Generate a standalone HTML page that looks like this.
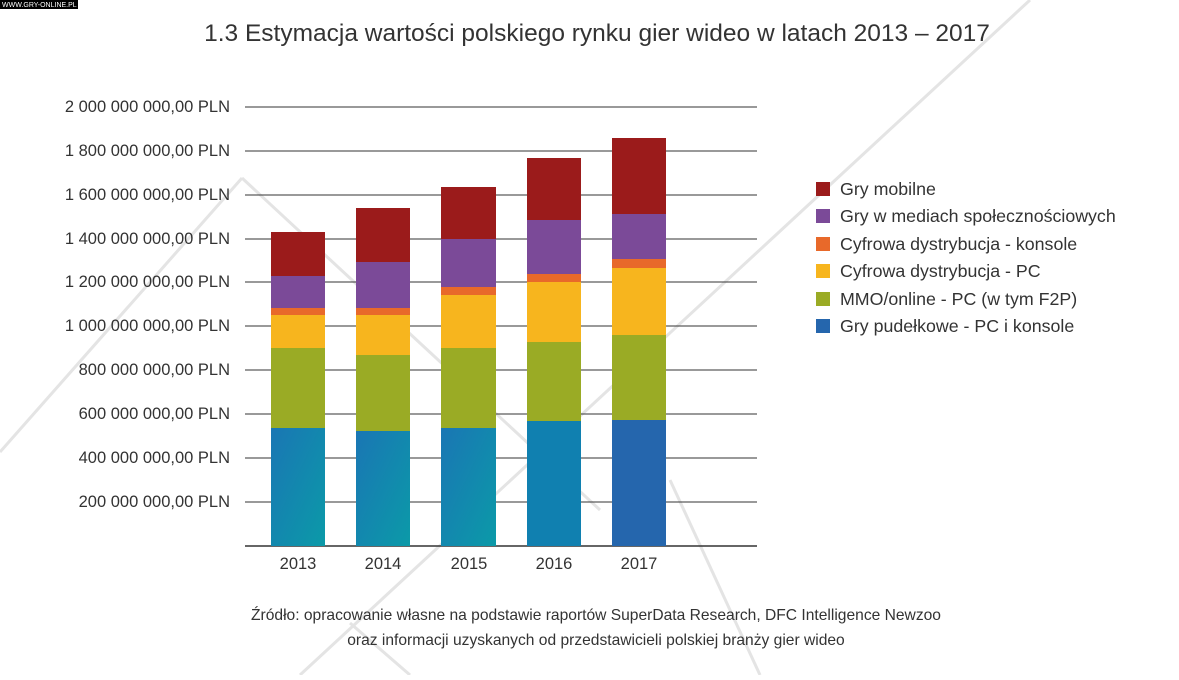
<!DOCTYPE html>
<html><head><meta charset="utf-8"><style>
body{margin:0;background:#fff;width:1179px;height:675px;overflow:hidden;font-family:"Liberation Sans",sans-serif}
</style></head><body>
<svg width="1179" height="675" xmlns="http://www.w3.org/2000/svg" font-family="Liberation Sans, sans-serif">
<defs>
<linearGradient id="bl" x1="0" y1="0" x2="1" y2="1">
<stop offset="0" stop-color="#1a76b4"/><stop offset="1" stop-color="#0b9aa8"/></linearGradient>
</defs>
<g stroke="#e4e4e4" stroke-width="3" fill="none">
<line x1="1030" y1="0" x2="300" y2="675"/>
<line x1="242" y1="178" x2="0" y2="452"/>
<line x1="242" y1="178" x2="600" y2="510"/>
<line x1="350" y1="623" x2="410" y2="675"/>
<line x1="670" y1="480" x2="760" y2="675"/>
</g>
<rect x="0" y="0" width="78" height="9" fill="#000"/>
<text x="2" y="7" font-size="7" fill="#fff">WWW.GRY-ONLINE.PL</text>
<text x="597" y="41" font-size="24.5" fill="#333" text-anchor="middle">1.3 Estymacja wartości polskiego rynku gier wideo w latach 2013 – 2017</text>
<g stroke="#333" stroke-width="1">
<line x1="245" y1="107" x2="757" y2="107"/><line x1="245" y1="151" x2="757" y2="151"/>
<line x1="245" y1="195" x2="757" y2="195"/><line x1="245" y1="239" x2="757" y2="239"/>
<line x1="245" y1="282" x2="757" y2="282"/><line x1="245" y1="326" x2="757" y2="326"/>
<line x1="245" y1="370" x2="757" y2="370"/><line x1="245" y1="414" x2="757" y2="414"/>
<line x1="245" y1="458" x2="757" y2="458"/><line x1="245" y1="502" x2="757" y2="502"/>
<line x1="245" y1="546" x2="757" y2="546" stroke-width="1.5"/>
</g>
<g font-size="16.5" fill="#333" text-anchor="end">
<text x="230" y="112">2 000 000 000,00 PLN</text><text x="230" y="156">1 800 000 000,00 PLN</text>
<text x="230" y="200">1 600 000 000,00 PLN</text><text x="230" y="244">1 400 000 000,00 PLN</text>
<text x="230" y="287">1 200 000 000,00 PLN</text><text x="230" y="331">1 000 000 000,00 PLN</text>
<text x="230" y="375">800 000 000,00 PLN</text><text x="230" y="419">600 000 000,00 PLN</text>
<text x="230" y="463">400 000 000,00 PLN</text><text x="230" y="507">200 000 000,00 PLN</text>
</g>
<g>
<rect x="271" y="428" width="54" height="118" fill="url(#bl)"/><rect x="271" y="348" width="54" height="80" fill="#9aab25"/><rect x="271" y="315" width="54" height="33" fill="#f7b51e"/><rect x="271" y="308" width="54" height="7" fill="#e8692a"/><rect x="271" y="276" width="54" height="32" fill="#7b4a98"/><rect x="271" y="232" width="54" height="44" fill="#9b1b1b"/>
<rect x="356" y="431" width="54" height="115" fill="url(#bl)"/><rect x="356" y="355" width="54" height="76" fill="#9aab25"/><rect x="356" y="315" width="54" height="40" fill="#f7b51e"/><rect x="356" y="308" width="54" height="7" fill="#e8692a"/><rect x="356" y="262" width="54" height="46" fill="#7b4a98"/><rect x="356" y="208" width="54" height="54" fill="#9b1b1b"/>
<rect x="441" y="428" width="55" height="118" fill="url(#bl)"/><rect x="441" y="348" width="55" height="80" fill="#9aab25"/><rect x="441" y="295" width="55" height="53" fill="#f7b51e"/><rect x="441" y="287" width="55" height="8" fill="#e8692a"/><rect x="441" y="239" width="55" height="48" fill="#7b4a98"/><rect x="441" y="187" width="55" height="52" fill="#9b1b1b"/>
<rect x="527" y="421" width="54" height="125" fill="#1080b0"/><rect x="527" y="342" width="54" height="79" fill="#9aab25"/><rect x="527" y="282" width="54" height="60" fill="#f7b51e"/><rect x="527" y="274" width="54" height="8" fill="#e8692a"/><rect x="527" y="220" width="54" height="54" fill="#7b4a98"/><rect x="527" y="158" width="54" height="62" fill="#9b1b1b"/>
<rect x="612" y="420" width="54" height="126" fill="#2566ad"/><rect x="612" y="335" width="54" height="85" fill="#9aab25"/><rect x="612" y="268" width="54" height="67" fill="#f7b51e"/><rect x="612" y="259" width="54" height="9" fill="#e8692a"/><rect x="612" y="214" width="54" height="45" fill="#7b4a98"/><rect x="612" y="138" width="54" height="76" fill="#9b1b1b"/>
</g>
<g font-size="16.5" fill="#333" text-anchor="middle">
<text x="298" y="569">2013</text><text x="383" y="569">2014</text><text x="469" y="569">2015</text><text x="554" y="569">2016</text><text x="639" y="569">2017</text>
</g>
<g font-size="17.8" fill="#333">
<rect x="816" y="182" width="14" height="14" fill="#9b1b1b"/><text x="840" y="195">Gry mobilne</text>
<rect x="816" y="209" width="14" height="14" fill="#7b4a98"/><text x="840" y="222">Gry w mediach społecznościowych</text>
<rect x="816" y="237" width="14" height="14" fill="#e8692a"/><text x="840" y="250">Cyfrowa dystrybucja - konsole</text>
<rect x="816" y="264" width="14" height="14" fill="#f7b51e"/><text x="840" y="277">Cyfrowa dystrybucja - PC</text>
<rect x="816" y="292" width="14" height="14" fill="#9aab25"/><text x="840" y="305">MMO/online - PC (w tym F2P)</text>
<rect x="816" y="319" width="14" height="14" fill="#2566ad"/><text x="840" y="332">Gry pudełkowe - PC i konsole</text>
</g>
<g font-size="15.6" fill="#333" text-anchor="middle">
<text x="596" y="620">Źródło: opracowanie własne na podstawie raportów SuperData Research, DFC Intelligence Newzoo</text>
<text x="596" y="645">oraz informacji uzyskanych od przedstawicieli polskiej branży gier wideo</text>
</g>
</svg>
</body></html>
